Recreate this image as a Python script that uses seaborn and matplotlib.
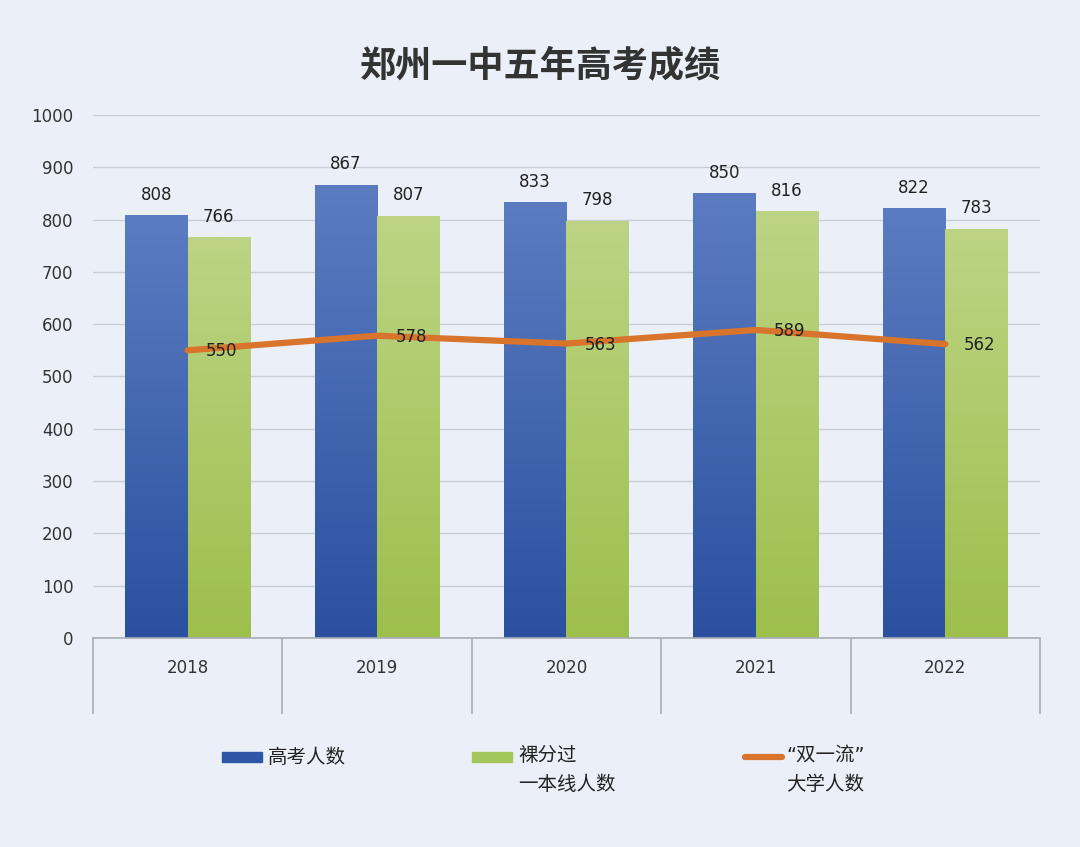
import pandas as pd
import numpy as np
import matplotlib.pyplot as plt
import matplotlib.patches as mpatches
import matplotlib.lines as mlines
from matplotlib.colors import LinearSegmentedColormap
import seaborn as sns

years = ["2018", "2019", "2020", "2021", "2022"]
total_exam = [808, 867, 833, 850, 822]
first_tier = [766, 807, 798, 816, 783]
double_first = [550, 578, 563, 589, 562]

series_names = ["高考人数", "裸分过\n一本线人数", "“双一流”\n大学人数"]
colors = ["#3a63b3", "#a6c960", "#d8742c"]
bg = "#ebf0f8"

sns.set_style("white")
plt.rcParams["font.family"] = ["DejaVu Sans", "Noto Sans CJK SC"]

df = pd.DataFrame({
    "year": years * 2,
    "value": total_exam + first_tier,
    "series": [series_names[0]] * 5 + [series_names[1]] * 5,
})

fig = plt.figure(figsize=(10.8, 8.47), dpi=100, facecolor=bg)
ax = fig.add_axes([0.086, 0.2468, 0.877, 0.6174])
ax.set_facecolor(bg)

sns.barplot(data=df, x="year", y="value", hue="series", order=years,
            palette=colors[:2], width=0.66, gap=0, saturation=1,
            edgecolor="none", legend=False, ax=ax, zorder=2)

# soft vertical gradient on the bars, like the original
grads = {
    colors[0]: LinearSegmentedColormap.from_list("b", ["#2b509f", "#5b7cc1"]),
    colors[1]: LinearSegmentedColormap.from_list("g", ["#9dbf4c", "#bcd484"]),
}
grad = np.linspace(0, 1, 256).reshape(-1, 1)
for k, p in enumerate(list(ax.patches)):
    cmap = grads[colors[0]] if k < 5 else grads[colors[1]]
    x0, y0, w, h = p.get_x(), p.get_y(), p.get_width(), p.get_height()
    im = ax.imshow(grad, cmap=cmap, origin="lower", aspect="auto",
                   extent=[x0, x0 + w, y0, y0 + h], zorder=2)
    im.set_clip_path(p)
    p.set_facecolor("none")

# bar labels
for i in range(5):
    ax.text(i - 0.165, total_exam[i] + 22, str(total_exam[i]), ha="center",
            va="bottom", fontsize=12, color="#222222")
    ax.text(i + 0.165, first_tier[i] + 22, str(first_tier[i]), ha="center",
            va="bottom", fontsize=12, color="#222222")

# line for double first-class
sns.lineplot(x=np.arange(5), y=double_first, color=colors[2], linewidth=4.5,
             ax=ax, zorder=3)
for i, v in enumerate(double_first):
    ax.text(i + 0.18, v - 2, str(v), ha="center", va="center",
            fontsize=12, color="#222222", zorder=4)

ax.set_xlim(-0.5, 4.5)
ax.set_ylim(0, 1000)
ax.set_yticks(range(0, 1001, 100))
ax.yaxis.grid(True, color="#c9cdd6", linewidth=1)
ax.set_axisbelow(True)
ax.tick_params(axis="y", length=0, labelsize=12, labelcolor="#333333", pad=14)
ax.set_xlabel("")
ax.set_ylabel("")

# category boxes under the axis
ax.set_xticks(np.arange(-0.5, 5, 1))
ax.set_xticklabels([""] * 6)
ax.tick_params(axis="x", which="major", bottom=True, length=55, width=1.2,
               color="#a8acb4", direction="out")
ax.set_xticks(range(5), minor=True)
ax.set_xticklabels(years, minor=True)
ax.tick_params(axis="x", which="minor", bottom=True, labelbottom=True, length=0,
               pad=15, labelsize=12, labelcolor="#333333")

for s in ["top", "right", "left"]:
    ax.spines[s].set_visible(False)
ax.spines["bottom"].set_color("#a8acb4")
ax.spines["bottom"].set_linewidth(1.2)

fig.text(0.5, 0.922, "郑州一中五年高考成绩", ha="center", va="center",
         fontsize=26, fontweight="bold", color="#333333")

# legend built by hand so the handle sits at the first text line
ly = 1 - 757 / 847
fig.patches.append(mpatches.Rectangle((222 / 1080, ly - 0.006), 40 / 1080, 0.012,
                                      transform=fig.transFigure, color="#2f56a6"))
fig.patches.append(mpatches.Rectangle((472 / 1080, ly - 0.006), 40 / 1080, 0.012,
                                      transform=fig.transFigure, color="#a3c75a"))
fig.lines.append(mlines.Line2D([745 / 1080, 782 / 1080], [ly, ly], transform=fig.transFigure,
                               color=colors[2], linewidth=4.5, solid_capstyle="round"))
fig.text(268 / 1080, ly, series_names[0], ha="left", va="center", fontsize=14, color="#222222")
fig.text(518 / 1080, ly + 0.013, series_names[1], ha="left", va="top", fontsize=14,
         color="#222222", linespacing=1.7)
fig.text(786 / 1080, ly + 0.013, series_names[2], ha="left", va="top", fontsize=14,
         color="#222222", linespacing=1.7)

fig.savefig("out.png", dpi=100, facecolor=bg)
